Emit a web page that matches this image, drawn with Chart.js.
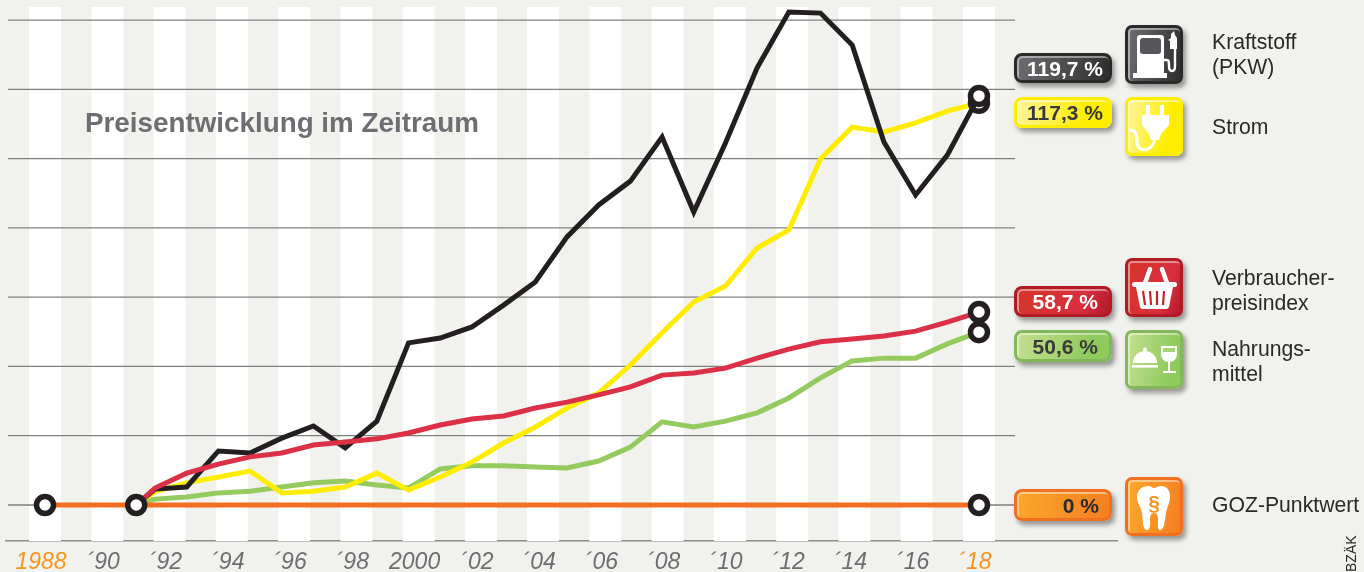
<!DOCTYPE html>
<html lang="de">
<head>
<meta charset="utf-8">
<title>Preisentwicklung im Zeitraum</title>
<script src="https://cdn.jsdelivr.net/npm/chart.js"></script>
<style>
  html, body { margin: 0; padding: 0; background: #f1f1ed; overflow: hidden; }
  body { width: 1364px; height: 572px; position: relative; font-family: "Liberation Sans", Arial, sans-serif; }
  canvas { position: absolute; left: 0; top: 0; }
  .title { position: absolute; left: 85px; top: 106px; font-size: 27.8px; line-height: 34px; font-weight: bold; color: #6d6e71; white-space: nowrap; }
  .badge { position: absolute; box-sizing: border-box; left: 1014px; width: 98px; border-style: solid; border-width: 3px; border-radius: 8px;
           box-shadow: 3px 4px 5px rgba(0,0,0,.38), inset 1px 1px 0 1px rgba(255,255,255,.45);
           font-size: 21px; font-weight: bold; text-align: right; white-space: nowrap; }
  .icon { position: absolute; box-sizing: border-box; left: 1125px; width: 58px; height: 59px; border-style: solid; border-width: 3px; border-radius: 7px;
          box-shadow: 3px 4px 5px rgba(0,0,0,.38), inset 1px 1px 0 1px rgba(255,255,255,.45); }
  .icon svg { position: absolute; left: -3px; top: -3px; }
  .name { position: absolute; left: 1212px; font-size: 21.2px; line-height: 25px; color: #2b2a2b; white-space: pre; }
  .credit { position: absolute; left: 1343px; top: 535px; font-size: 14px; line-height: 16px; color: #2b2a2b; transform-origin: 0 0; white-space: nowrap;
            transform: translate(0, 37px) rotate(-90deg); }
</style>
</head>
<body>
<canvas id="chart" width="1364" height="572"></canvas>
<div class="title">Preisentwicklung im Zeitraum</div>
<div id="legend"></div>
<div class="credit">BZÄK</div>

<script>
const tickYears = [1988, 1990, 1992, 1994, 1996, 1998, 2000, 2002, 2004, 2006, 2008, 2010, 2012, 2014, 2016, 2018];
const tickLabels = ['1988', '´90', '´92', '´94', '´96', '´98', '2000', '´02', '´04', '´06', '´08', '´10', '´12', '´14', '´16', '´18'];
const gridValues = [0, 20, 40, 60, 80, 100, 120, 140];

// the drawn curves do not sit exactly on the year stripes, they get their own axis
const lineYears = [1991.4, 1992, 1993, 1994, 1995, 1996, 1997, 1998, 1999, 2000, 2001, 2002, 2003, 2004, 2005, 2006, 2007, 2008, 2009, 2010, 2011, 2012, 2013, 2014, 2015, 2016, 2017, 2018];
const kraftstoff = [0, 4.6, 5.2, 15.6, 15.0, 19.3, 22.8, 16.5, 24.2, 46.8, 48.2, 51.4, 57.7, 64.4, 77.4, 86.6, 93.5, 106.2, 84.6, 104.5, 126.2, 142.3, 142.0, 132.8, 104.8, 89.5, 101.0, 118.1];
const strom = [0, 3.9, 6.4, 8.1, 9.8, 3.5, 4.0, 5.2, 9.2, 4.3, 8.1, 12.4, 17.9, 22.5, 28.0, 32.3, 40.4, 49.7, 58.6, 63.2, 74.2, 79.4, 99.9, 109.1, 107.7, 110.3, 113.7, 116.1];
const verbraucher = [0, 4.9, 9.2, 11.8, 13.9, 15.0, 17.3, 18.2, 19.1, 20.8, 23.1, 24.8, 25.7, 28.0, 29.7, 31.8, 34.1, 37.5, 38.1, 39.5, 42.4, 45.0, 47.1, 47.9, 48.8, 50.2, 52.8, 55.7];
const nahrung = [0, 1.7, 2.3, 3.5, 4.0, 5.2, 6.4, 6.9, 5.8, 4.9, 10.4, 11.3, 11.3, 11.0, 10.7, 12.7, 16.7, 24.0, 22.5, 24.2, 26.6, 30.9, 36.7, 41.6, 42.4, 42.4, 46.5, 49.9];
const gozYears = [1988, 1990.93, 2018];
const goz = [0, 0, 0];

const pump = `<path d="M12 13a3 3 0 0 1 3-3h21a3 3 0 0 1 3 3v35h3v5H8v-5h4z" fill="#fff"/><rect x="15" y="13" width="21" height="16" rx="3" fill="#55565a"/>
  <path d="M39 35h3c2 0 2 2 2 6s1 5 3 5 3-2 3-5V20" fill="none" stroke="#fff" stroke-width="2.4"/><path d="M46 9l3-3 1 4 2 3v11h-7v-8l-2-1 3-2z" fill="#fff"/>`;
const plug = `<path d="M21 8h4v11h-4zM35 8h4v11h-4z" fill="#fff"/><path d="M17 18h27v10l-8 9-2 6h-8l-2-6-7-9z" fill="#fff"/>
  <path d="M30 42c-2 9-9 12-14 10-6-2-3-11-5-15-1-3-3-4-6-4" fill="none" stroke="#fff" stroke-width="3"/>`;
const basket = `<path d="M20 25l5-14M37 11l5 14" stroke="#fff" stroke-width="4.5" stroke-linecap="round"/><rect x="7" y="24" width="45" height="5" rx="2.5" fill="#fff"/>
  <path d="M11 29h37l-4 20a3 3 0 0 1-3 2H18a3 3 0 0 1-3-2z" fill="#fff"/>
  <path d="M18 33l2 14M25 33l1 14M32 33v14M39 33l-1 14" stroke="#c5242c" stroke-width="2.2"/>`;
const food = `<path d="M8 33a12 12 0 0 1 24 0z" fill="#fff"/><circle cx="20" cy="19.5" r="2" fill="#fff"/><rect x="7" y="35" width="26" height="2.6" fill="#fff"/>
  <path d="M36 16h16v7c0 6-3 9-8 9s-8-3-8-9z" fill="#fff"/><path d="M38 18h12v4H38z" fill="#a6d373"/><rect x="43" y="31" width="2" height="10" fill="#fff"/><rect x="38" y="41" width="13" height="2" fill="#fff"/>`;
const tooth = `<path d="M12 20c0-7 5-11 11-11 3 0 4 2 6 2s4-2 7-2c6 0 9 4 9 11 0 6-3 10-4 16-1 5-1 17-6 17-3 0-2-7-2-11 0-3-1-6-4-6s-4 3-4 6c0 4 1 11-3 11-5 0-4-12-5-17-1-6-5-10-5-16z" fill="#fff"/>
  <text x="29" y="33" text-anchor="middle" font-family="Liberation Sans" font-weight="bold" font-size="21" fill="#f7931e">§</text>`;

const legendItems = [
  { value: '119,7 %', name: 'Kraftstoff\n(PKW)', badgeTop: 53, badgeH: 30, pad: 6, iconTop: 25, nameTop: 29, text: '#fff', border: '#2b2a2b', fill: 'linear-gradient(100deg,#6d6e71,#2f2e2f)', art: pump },
  { value: '117,3 %', name: 'Strom', badgeTop: 97, badgeH: 31, pad: 6, iconTop: 97, nameTop: 114, text: '#3a3a3a', border: '#ffed00', fill: 'linear-gradient(100deg,#fff59a,#ffed00 75%)', art: plug },
  { value: '58,7 %', name: 'Verbraucher-\npreisindex', badgeTop: 286, badgeH: 31, pad: 11, iconTop: 258, nameTop: 265, text: '#fff', border: '#af1c24', fill: 'linear-gradient(110deg,#d5352a,#d92e3e 70%,#b51a2b)', art: basket },
  { value: '50,6 %', name: 'Nahrungs-\nmittel', badgeTop: 330, badgeH: 32, pad: 11, iconTop: 330, nameTop: 336, text: '#3a3a3a', border: '#83b85a', fill: 'linear-gradient(100deg,#c4df90,#8fca5c 80%)', art: food },
  { value: '0 %', name: 'GOZ-Punktwert', badgeTop: 489, badgeH: 32, pad: 10, iconTop: 477, nameTop: 492, text: '#2b2a2b', border: '#f26f21', fill: 'linear-gradient(100deg,#fba72c,#f47f20)', art: tooth }
];

const legend = document.getElementById('legend');
legendItems.forEach(item => {
  legend.insertAdjacentHTML('beforeend', `
    <div class="badge" style="top:${item.badgeTop}px;height:${item.badgeH}px;line-height:${item.badgeH - 5}px;padding-right:${item.pad}px;color:${item.text};border-color:${item.border};background:${item.fill}">${item.value}</div>
    <div class="icon" style="top:${item.iconTop}px;border-color:${item.border};background:${item.fill}"><svg width="58" height="59" viewBox="0 0 58 59">${item.art}</svg></div>
    <div class="name" style="top:${item.nameTop}px">${item.name}</div>`);
});

// white year stripes and the horizontal rules, they stop short of the axis end
const backdrop = {
  id: 'backdrop',
  beforeDatasetsDraw(chart) {
    const { ctx, chartArea, scales } = chart;
    ctx.save();
    ctx.fillStyle = '#fff';
    for (let year = 1988; year <= 2018; year += 2) {
      const x = scales.x.getPixelForValue(year);
      ctx.fillRect(x - 16, chartArea.top, 32, chartArea.bottom - chartArea.top);
    }
    ctx.strokeStyle = '#808080';
    ctx.lineWidth = 1.3;
    gridValues.forEach(v => {
      const y = scales.y.getPixelForValue(v);
      ctx.beginPath();
      ctx.moveTo(8, y);
      ctx.lineTo(1015, y);
      ctx.stroke();
    });
    ctx.restore();
  }
};

function curve(values, color) {
  return {
    data: values.map((v, i) => ({ x: lineYears[i], y: v })),
    xAxisID: 'xLines',
    borderColor: color,
    borderWidth: 5,
    borderJoinStyle: 'miter',
    pointRadius: ctx => ctx.dataIndex === values.length - 1 ? 8.5 : 0,
    pointBorderWidth: 5.5,
    pointBorderColor: '#231f20',
    pointBackgroundColor: '#fff'
  };
}

new Chart(document.getElementById('chart'), {
  type: 'line',
  data: {
    datasets: [
      {
        data: gozYears.map((y, i) => ({ x: y, y: goz[i] })),
        xAxisID: 'x',
        borderColor: '#f26f21',
        borderWidth: 5,
        pointRadius: 8.5,
        pointBorderWidth: 5.5,
        pointBorderColor: '#231f20',
        pointBackgroundColor: '#fff'
      },
      curve(verbraucher, '#db3046'),
      curve(kraftstoff, '#231f20'),
      curve(strom, '#ffed00'),
      curve(nahrung, '#93cb5e')
    ]
  },
  options: {
    responsive: false,
    animation: false,
    layout: { autoPadding: false, padding: { left: 6, right: 247, top: 7, bottom: 0 } },
    plugins: { legend: { display: false }, tooltip: { enabled: false }, title: { display: false } },
    scales: {
      x: {
        type: 'linear',
        min: 1986.747,
        max: 2022.433,
        afterFit: scale => { scale.height = 31; },
        afterBuildTicks: scale => { scale.ticks = tickYears.map(v => ({ value: v })); },
        grid: { display: false },
        border: { color: '#8c8c8c', width: 1.5 },
        ticks: {
          autoSkip: false,
          maxRotation: 0,
          padding: 0,
          labelOffset: -4,
          font: { family: '"Liberation Sans"', size: 23, style: 'italic' },
          color: ctx => (ctx.tick.value === 1988 || ctx.tick.value === 2018) ? '#f7931e' : '#6d6e71',
          callback: value => tickLabels[tickYears.indexOf(value)]
        }
      },
      xLines: { type: 'linear', display: false, min: 1987.298, max: 2022.355 },
      y: { display: false, min: -10.39, max: 143.76 }
    }
  },
  plugins: [backdrop]
});
</script>
</body>
</html>
